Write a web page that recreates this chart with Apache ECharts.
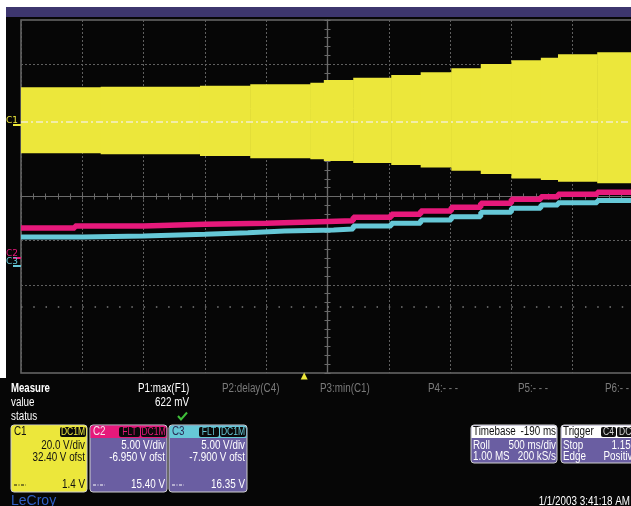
<!DOCTYPE html>
<html>
<head>
<meta charset="utf-8">
<script src="https://cdn.jsdelivr.net/npm/echarts@6/dist/echarts.min.js"></script>
<style>
  html, body { margin: 0; padding: 0; background: #060606; }
  #scope { width: 631px; height: 506px; }
</style>
</head>
<body>
<div id="scope"></div>
<script>
// ---- acquisition data (time in s relative to screen centre, 500 ms/div) ----
// Every value holds from its own time until the next time (stepped record).

// C1: envelope of the AC waveform, volts
const c1Times  = [-2.5, -1.85, -1.04, -0.63, -0.14, -0.03, 0.21, 0.52, 0.76, 1.01, 1.25, 1.50, 1.74, 1.88, 2.20, 2.5];
const c1Top    = [17.1, 17.4, 17.8, 18.5, 19.2, 20.4, 21.4, 22.7, 23.9, 25.7, 27.7, 29.4, 30.5, 32.1, 33.0, 33.0];
const c1Bottom = [-12.8, -13.3, -14.0, -15.1, -15.5, -16.3, -17.2, -18.1, -19.2, -20.7, -22.2, -24.2, -24.9, -25.7, -26.4, -26.4];

// C2: DC level, volts
const c2Times = [-2.5, -2.06, -1.5, -1.0, -0.5, -0.14, 0.21, 0.52, 0.76, 1.01, 1.25, 1.50, 1.74, 1.88, 2.20, 2.5];
const c2Volts = [3.38, 3.61, 3.80, 3.91, 4.06, 4.21, 4.59, 4.93, 5.31, 5.73, 6.18, 6.63, 6.93, 7.20, 7.43, 7.43];

// C3: DC level, volts
const c3Times = [-2.5, -2.0, -1.5, -1.0, -0.65, -0.35, 0.05, 0.21, 0.52, 0.76, 1.01, 1.25, 1.50, 1.74, 1.88, 2.20, 2.5];
const c3Volts = [3.31, 3.42, 3.62, 3.80, 3.99, 4.10, 4.22, 4.56, 4.86, 5.24, 5.61, 6.11, 6.56, 6.94, 7.20, 7.45, 7.45];

// vertical settings per channel
const chNames   = ['C1', 'C2', 'C3'];
const chVdiv    = [20.0, 5.00, 5.00];
const chOffset  = [32.40, -6.950, -7.900];
const chLevel   = [1.4, 15.40, 16.35];

// timebase / trigger
const timeDiv = 0.5;
const triggerTime = -0.19;
const triggerLevelDiv = -2.5;

// graticule rows drawn as dotted rules (in divisions from centre)
const graticuleRows = [3, 2, 1, -1, -2];

// ---- styling ----
const FONT = '"Liberation Sans",Arial,sans-serif';
const YELLOW = '#ECE73B', MAGENTA = '#E6197B', CYAN = '#66C8D7';
const PURPLE = '#6A5EA2', GRIDC = '#5f5f5f', BORDER = '#6a6a6a';
const DIVS = 4;

const chColors = [YELLOW, MAGENTA, CYAN];

function channelAxis(i) {
  const centre = -chOffset[i];
  return {
    type: 'value',
    min: centre - DIVS * chVdiv[i],
    max: centre + DIVS * chVdiv[i],
    position: 'left',
    axisLine: { show: false, onZero: false },
    splitLine: { show: false },
    axisTick: { show: true, customValues: [0], length: 8, lineStyle: { color: chColors[i], width: 2 } },
    axisLabel: {
      show: true, customValues: [0], formatter: () => chNames[i],
      color: chColors[i], fontSize: 9, fontFamily: 'DejaVu Sans',
      margin: 3, verticalAlign: 'bottom', align: 'right'
    }
  };
}

function divisionAxis(position) {
  return {
    type: 'value', min: -DIVS, max: DIVS, interval: 1, position,
    axisLine: { show: true, onZero: true, onZeroAxisIndex: 0, lineStyle: { color: BORDER, width: 1.2 } },
    axisTick: { show: true, length: 3, lineStyle: { color: BORDER } },
    minorTick: { show: true, splitNumber: 5, length: 3, lineStyle: { color: BORDER } },
    axisLabel: { show: false },
    splitLine: { show: false }
  };
}

function timeAxis(position) {
  return {
    type: 'value', min: -5 * timeDiv, max: 5 * timeDiv, interval: timeDiv, position,
    axisLine: { show: true, onZero: true, onZeroAxisIndex: 0, lineStyle: { color: BORDER, width: 1.2 } },
    axisTick: { show: true, length: 3, lineStyle: { color: BORDER } },
    minorTick: { show: true, splitNumber: 5, length: 3, lineStyle: { color: BORDER } },
    axisLabel: { show: false },
    splitLine: { show: position === 'bottom', lineStyle: { color: GRIDC, type: [2, 2], width: 1 } }
  };
}

const bandData = c1Times.slice(0, -1).map((t, i) => [t, c1Times[i + 1], c1Top[i], c1Bottom[i]]);
const c2Data = c2Times.map((t, i) => [t, c2Volts[i]]);
const c3Data = c3Times.map((t, i) => [t, c3Volts[i]]);

// ---- lower status panel (graphic elements) ----
const g = [];
function rect(x, y, w, h, fill, r, stroke) {
  g.push({ type: 'rect', silent: true, shape: { x, y, width: w, height: h, r: r || 0 },
           style: { fill, stroke: stroke || null, lineWidth: stroke ? 1 : 0 } });
}
function txt(x, y, s, color, size, opts) {
  opts = opts || {};
  g.push({ type: 'text', silent: true, x, y, scaleX: opts.sx || 0.82,
           style: { text: s, fill: color, font: (opts.bold ? 'bold ' : '') + size + 'px ' + (opts.family || FONT),
                    align: opts.align || 'left', verticalAlign: 'middle' } });
}
function dashIcon(x, y, color) {
  g.push({ type: 'line', silent: true, shape: { x1: x, y1: y, x2: x + 12, y2: y },
           style: { stroke: color, lineWidth: 1, lineDash: [3, 1.5, 1, 1.5] } });
}
function badge(x, w, label, color) {
  rect(x, 427, w, 10, '#0a0a0a', 2);
  txt(x + w / 2, 432.5, label, color, 10, { align: 'center', sx: 0.85 });
}

// title strip
rect(0, 0, 631, 7, '#ffffff');
rect(6, 7, 625, 10, '#3D366E');
rect(0, 0, 6, 378, '#ffffff');

// measurement table
txt(11, 389, 'Measure', '#ffffff', 12, { bold: true, sx: 0.8 });
txt(11, 403, 'value', '#ffffff', 12);
txt(11, 417, 'status', '#ffffff', 12);
txt(138, 389, 'P1:max(F1)', '#ffffff', 12);
txt(222, 389, 'P2:delay(C4)', '#7a7a7a', 12);
txt(320, 389, 'P3:min(C1)', '#7a7a7a', 12);
txt(428, 389, 'P4:- - -', '#7a7a7a', 12);
txt(518, 389, 'P5:- - -', '#7a7a7a', 12);
txt(605, 389, 'P6:- - -', '#7a7a7a', 12);
txt(189, 403, '622 mV', '#ffffff', 12, { align: 'right' });
g.push({ type: 'polyline', silent: true, shape: { points: [[178, 416], [181, 419.5], [187, 412.5]] },
         style: { stroke: '#3FBF3A', lineWidth: 2, fill: null } });

// channel boxes
const boxes = [
  { x: 11,  w: 76, head: YELLOW,  nameColor: '#111', body: YELLOW, text: '#111', badges: [['DC1M', 26]] },
  { x: 90,  w: 77, head: MAGENTA, nameColor: '#f6e6ee', body: PURPLE, text: '#ffffff', badges: [['FLT', 21], ['DC1M', 25]] },
  { x: 169, w: 78, head: CYAN,    nameColor: '#2b2b55', body: PURPLE, text: '#ffffff', badges: [['FLT', 20], ['DC1M', 26]] }
];
boxes.forEach((b, i) => {
  rect(b.x, 425, b.w, 67, b.body, 3, '#cfcfcf');
  rect(b.x + 0.5, 425.5, b.w - 1, 12.5, b.head, [3, 3, 0, 0]);
  txt(b.x + 3, 432, chNames[i], b.nameColor, 12);
  let bx = b.x + b.w - 1;
  for (let k = b.badges.length - 1; k >= 0; k--) {
    const [label, bw] = b.badges[k];
    bx -= bw;
    badge(bx, bw, label, chColors[i]);
    bx -= 1;
  }
  const right = b.x + b.w - 2;
  txt(right, 446, chVdiv[i].toFixed(i === 0 ? 1 : 2) + ' V/div', b.text, 12, { align: 'right' });
  txt(right, 458, chOffset[i].toFixed(i === 0 ? 2 : 3) + ' V ofst', b.text, 12, { align: 'right' });
  dashIcon(b.x + 3, 485, b.text);
  txt(right, 485, (i === 0 ? chLevel[i].toFixed(1) : chLevel[i].toFixed(2)) + ' V', b.text, 12, { align: 'right' });
});

// timebase box
rect(471, 425, 86, 38, PURPLE, 3, '#cfcfcf');
rect(471.5, 425.5, 85, 12.5, '#ffffff', [3, 3, 0, 0]);
txt(473, 431.5, 'Timebase', '#111', 12);
txt(556, 431.5, (triggerTime * 1000).toFixed(0) + ' ms', '#111', 12, { align: 'right' });
txt(473, 446, 'Roll', '#ffffff', 12);
txt(556, 446, (timeDiv * 1000) + ' ms/div', '#ffffff', 12, { align: 'right' });
txt(473, 457, '1.00 MS', '#ffffff', 12);
txt(556, 457, '200 kS/s', '#ffffff', 12, { align: 'right' });

// trigger box
rect(561, 425, 86, 38, PURPLE, 3, '#cfcfcf');
rect(561.5, 425.5, 85, 12.5, '#ffffff', [3, 3, 0, 0]);
txt(563, 431.5, 'Trigger', '#111', 12);
rect(601, 427, 15, 10, '#111', 2);
txt(608.5, 432.5, 'C4', '#d8d8d8', 10, { align: 'center', sx: 0.85 });
rect(617, 427, 26, 10, '#111', 2);
txt(619, 432.5, 'DC1M', '#d8d8d8', 10, { sx: 0.85 });
txt(563, 446, 'Stop', '#ffffff', 12);
txt(640, 446, '1.15 V', '#ffffff', 12, { align: 'right' });
txt(563, 457, 'Edge', '#ffffff', 12);
txt(638, 457, 'Positive', '#ffffff', 12, { align: 'right' });

// footer
txt(11, 501, 'LeCroy', '#2F5FC6', 14, { sx: 1 });
txt(630, 502, '1/1/2003 3:41:18 AM', '#ffffff', 12, { align: 'right' });

// ---- chart ----
const chart = echarts.init(document.getElementById('scope'), null, { renderer: 'canvas' });
chart.setOption({
  animation: false,
  backgroundColor: '#060606',
  grid: {
    left: 21, top: 20, width: 613, height: 353,
    show: true, borderColor: BORDER, borderWidth: 1.5, backgroundColor: 'transparent',
    containLabel: false, outerBoundsMode: 'none'
  },
  xAxis: [timeAxis('bottom'), timeAxis('top')],
  yAxis: [divisionAxis('left'), channelAxis(0), channelAxis(1), channelAxis(2), divisionAxis('right')],
  series: [
    {
      name: 'graticule', type: 'line', xAxisIndex: 0, yAxisIndex: 0, data: [], z: 1,
      markLine: {
        z: 1, silent: true, symbol: ['none', 'none'], label: { show: false },
        lineStyle: { color: GRIDC, width: 1, type: [2, 2] },
        data: graticuleRows.map(v => ({ yAxis: v }))
      }
    },
    {
      name: 'C1', type: 'custom', xAxisIndex: 0, yAxisIndex: 1, clip: true, z: 3,
      data: bandData,
      encode: { x: [0, 1], y: [2, 3] },
      renderItem: (params, api) => {
        const a = api.coord([api.value(0), api.value(2)]);
        const b = api.coord([api.value(1), api.value(3)]);
        return { type: 'rect', shape: { x: a[0], y: a[1], width: b[0] - a[0] + 0.6, height: b[1] - a[1] },
                 style: { fill: YELLOW } };
      },
      markLine: {
        z: 5, silent: true, symbol: ['none', 'none'], label: { show: false },
        lineStyle: { color: '#F3F0CC', width: 1.5, type: [7, 3, 2, 3] },
        data: [{ yAxis: chLevel[0] }]
      }
    },
    {
      name: 'C2', type: 'line', xAxisIndex: 0, yAxisIndex: 2, step: 'end', z: 2,
      showSymbol: false, clip: true, data: c2Data,
      lineStyle: { color: MAGENTA, width: 5.5 }
    },
    {
      name: 'C3', type: 'line', xAxisIndex: 0, yAxisIndex: 3, step: 'end', z: 2,
      showSymbol: false, clip: true, data: c3Data,
      lineStyle: { color: CYAN, width: 5 }
    },
    {
      name: 'trigger', type: 'line', xAxisIndex: 0, yAxisIndex: 0, data: [], z: 1,
      markLine: {
        z: 1, silent: true, symbol: ['none', 'none'], label: { show: false },
        lineStyle: { color: '#7a7a7a', width: 1.5, type: [1.5, 10.76] },
        data: [{ yAxis: triggerLevelDiv }]
      },
      markPoint: {
        silent: true, symbol: 'triangle', symbolSize: [7, 7], symbolOffset: [0, 3],
        itemStyle: { color: YELLOW }, label: { show: false },
        data: [{ coord: [triggerTime, -DIVS] }]
      }
    }
  ],
  graphic: g
});
</script>
</body>
</html>
